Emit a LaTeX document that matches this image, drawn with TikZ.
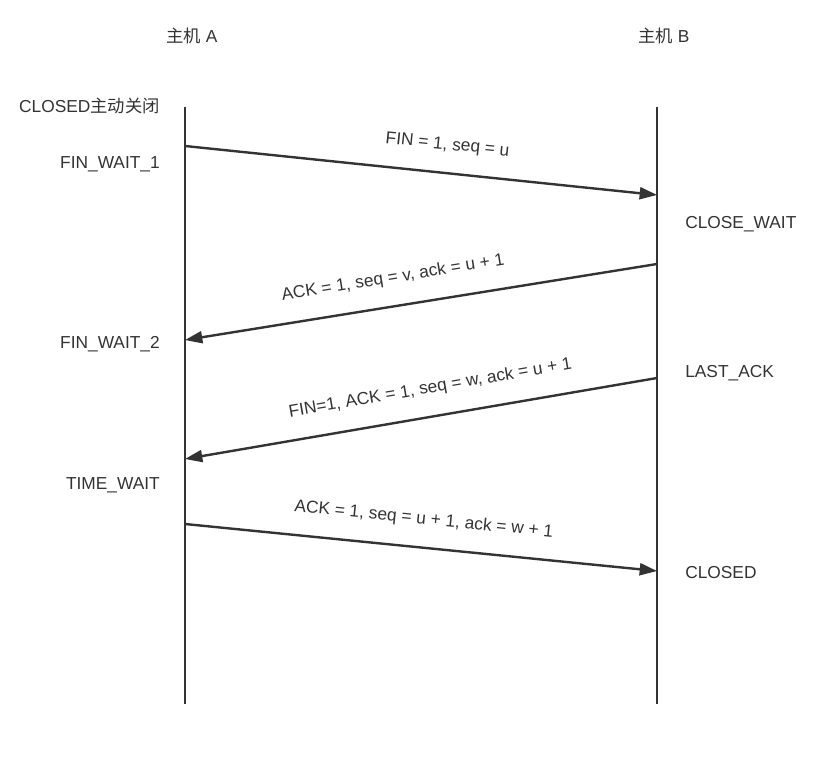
\documentclass[tikz,border=0pt]{standalone}
\usepackage{fontspec}
\setmainfont{Liberation Sans}
\newfontfamily\cjk{Noto Sans CJK SC}
\usepackage{tikz}
\usetikzlibrary{positioning, arrows.meta}
\definecolor{inkgray}{HTML}{333333}

\begin{document}
\begin{tikzpicture}[x=0.75pt, y=-0.75pt, font=\fontsize{13}{15}\selectfont, text=inkgray,
    lifeline/.style={draw=inkgray, line width=2pt},
    msg/.style={draw=inkgray, line width=1.8pt, -{Triangle[length=13pt, width=9pt]}},
    msglabel/.style={sloped, above=14pt, inner sep=0pt},
    stateA/.style={anchor=base east, inner sep=0pt},
    stateB/.style={anchor=base west, inner sep=0pt}]
        \useasboundingbox (0,0) rectangle (839,759);
        % hosts
        \node[anchor=base, inner sep=0pt] (hostA) at (192,43) {{\cjk 主机} A};
        \node[anchor=base, inner sep=0pt] (hostB) at (664,43) {{\cjk 主机} B};
        \coordinate (aTop) at (185,107);
        \coordinate (aBot) at (185,704);
        \coordinate (bTop) at (657,107);
        \coordinate (bBot) at (657,704);
        \draw[lifeline] (aTop) -- (aBot);
        \draw[lifeline] (bTop) -- (bBot);
        % states
        \node[stateA] (closedA) at (160,113) {CLOSED{\cjk 主动关闭}};
        \node[stateA] (finWait1) at (160,169) {FIN\_WAIT\_1};
        \node[stateA] (finWait2) at (160,349) {FIN\_WAIT\_2};
        \node[stateA] (timeWait) at (160,489) {TIME\_WAIT};
        \node[stateB] (closeWait) at (685,229) {CLOSE\_WAIT};
        \node[stateB] (lastAck) at (685,378) {LAST\_ACK};
        \node[stateB] (closedB) at (685,578) {CLOSED};
        % segments
        \coordinate (a1) at (185,146);
        \coordinate (b1) at (657,195);
        \coordinate (b2) at (657,264);
        \coordinate (a2) at (185,340);
        \coordinate (b3) at (657,378);
        \coordinate (a3) at (185,459);
        \coordinate (a4) at (185,524);
        \coordinate (b4) at (657,571);
        \draw[msg] (a1) -- node[msglabel, pos=0.55] {FIN = 1, seq = u} (b1);
        \draw[msg] (b2) -- node[msglabel, pos=0.55] {ACK = 1, seq = v, ack = u + 1} (a2);
        \draw[msg] (b3) -- node[msglabel, pos=0.47] {FIN=1, ACK = 1, seq = w, ack = u + 1} (a3);
        \draw[msg] (a4) -- node[msglabel, pos=0.5] {ACK = 1, seq = u + 1, ack = w + 1} (b4);
    \end{tikzpicture}
\end{document}
